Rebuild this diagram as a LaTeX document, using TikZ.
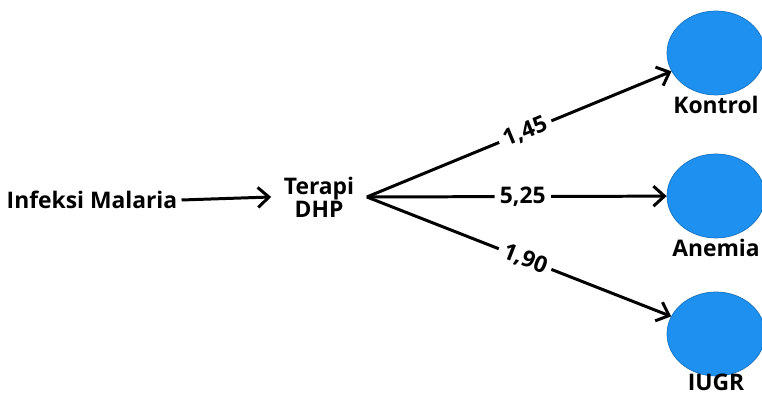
\documentclass[tikz,border=0pt]{standalone}
\usepackage{fontspec}
\setmainfont{Open Sans}
\usetikzlibrary{positioning,arrows.meta,shapes.geometric}
\definecolor{bulat}{RGB}{30,144,240}
\tikzset{
  teks/.style={font=\bfseries\fontsize{13}{14}\selectfont},
  panah/.style={line width=1.7pt,-{Straight Barb[length=2.2mm,width=4mm,line width=1.7pt]}},
  bobot/.style={teks,fill=white,sloped,inner sep=3pt,pos=0.52},
  variabel/.style={ellipse,fill=bulat,draw=bulat!80!black,line width=0.4pt,minimum width=1.96cm,minimum height=1.68cm,inner sep=0pt}
}
\begin{document}
\begin{tikzpicture}[thick]
    \useasboundingbox (0,0) rectangle (15.24,7.98);
    \node[teks,inner sep=2pt] (infeksi) at (1.84,3.98) {Infeksi Malaria};
    \node[teks,align=center,inner xsep=0.24cm,inner ysep=0pt] (terapi) at (6.38,4.04)
          {Terapi\\[-1pt]DHP};

    \node[variabel] (kontrol) at (14.32,6.92) {};
    \node[variabel] (anemia) at (14.32,4.06) {};
    \node[variabel] (iugr) at (14.32,1.3) {};
    \node[teks,below=-3pt of kontrol] (lkontrol) {Kontrol};
    \node[teks,below=-3pt of anemia] (lanemia) {Anemia};
    \node[teks,below=-3pt of iugr,inner ysep=1pt] (liugr) {IUGR};

    \draw[panah] (infeksi.east)--(terapi.west);
    \draw[panah] (terapi.east)--(kontrol) node[bobot]{1,45};
    \draw[panah] (terapi.east)--(anemia) node[bobot]{5,25};
    \draw[panah] (terapi.east)--(iugr) node[bobot]{1,90};
  \end{tikzpicture}
\end{document}
